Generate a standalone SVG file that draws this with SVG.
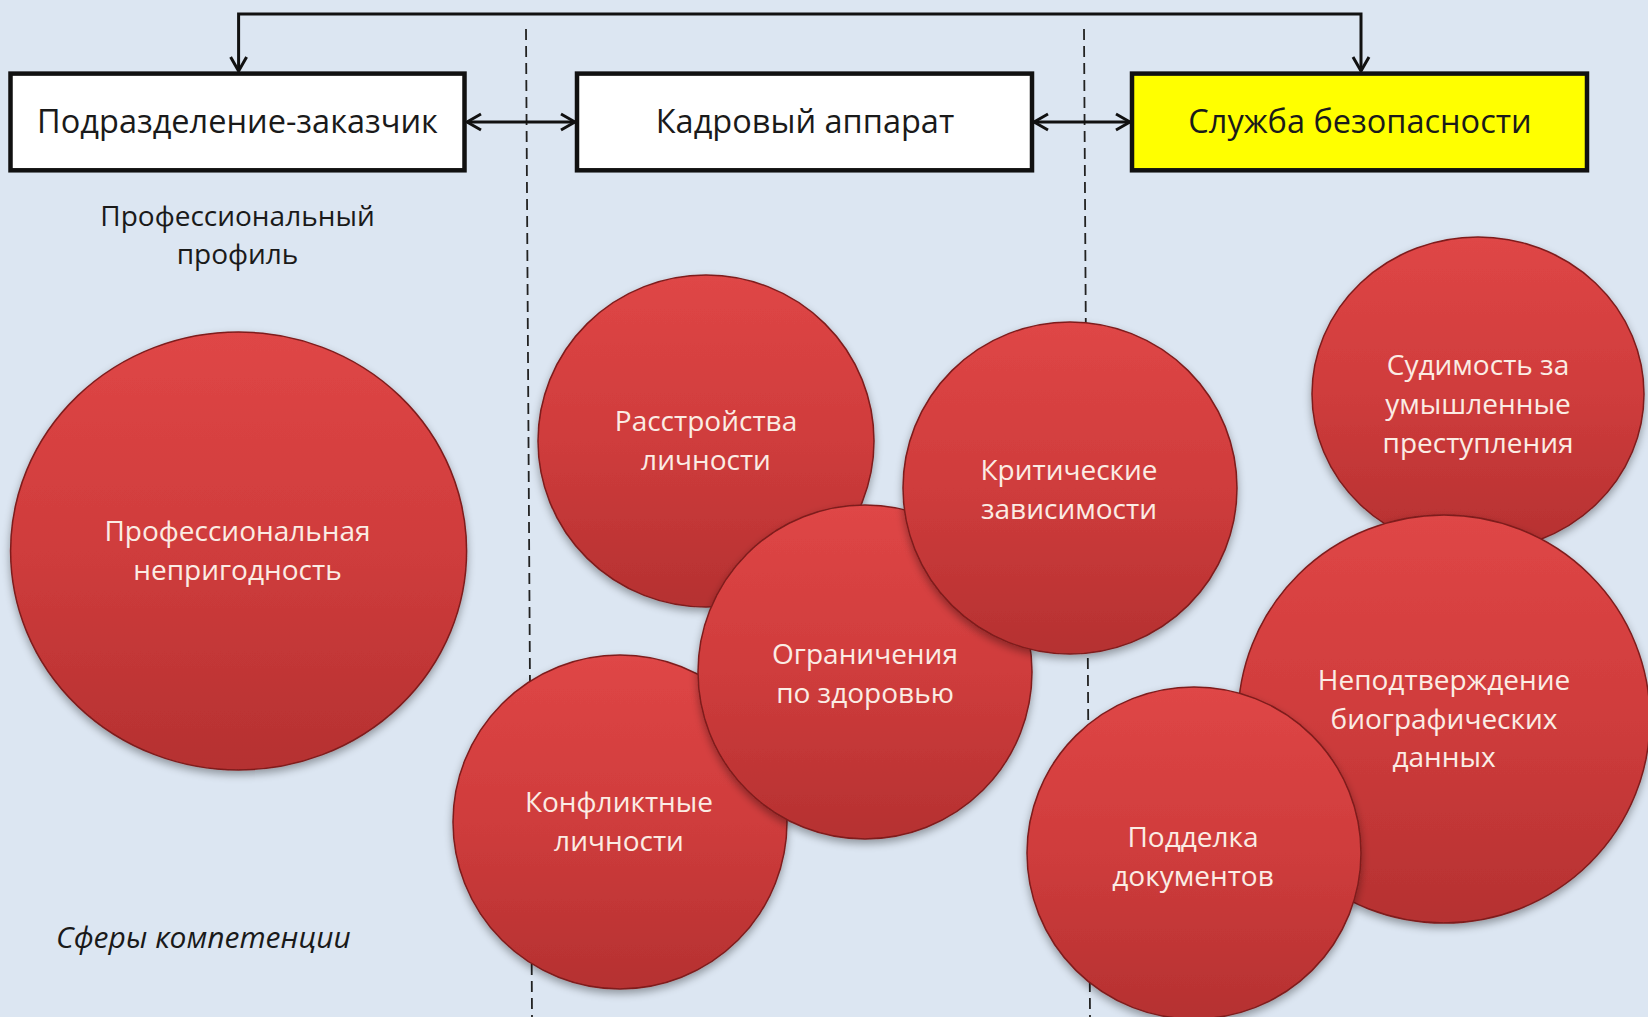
<svg xmlns="http://www.w3.org/2000/svg" width="1648" height="1017" viewBox="0 0 1648 1017">
<defs>
<style>
.box{stroke:#111;stroke-width:4.5;}
.btxt{font-family:"Open Sans","Noto Sans",sans-serif;font-size:32.5px;fill:#1a1a1a;text-anchor:middle;}
.lbl{font-family:"Open Sans","Noto Sans",sans-serif;font-size:28px;fill:#1a1a1a;text-anchor:middle;}
.ctxt{font-family:"Open Sans","Noto Sans",sans-serif;font-size:28px;fill:#fbece4;text-anchor:middle;}
.circ{fill:url(#redg);stroke:#7e1c1c;stroke-width:1.5;filter:url(#sh);}
.conn{fill:none;stroke:#111;stroke-width:3;}
.dash{stroke:#222;stroke-width:1.8;stroke-dasharray:11 6;}
</style>
<linearGradient id="redg" x1="0" y1="0" x2="0" y2="1">
<stop offset="0" stop-color="#df4646"/>
<stop offset="0.5" stop-color="#cf3c3c"/>
<stop offset="1" stop-color="#b53131"/>
</linearGradient>
<filter id="sh" x="-10%" y="-10%" width="120%" height="125%">
<feGaussianBlur in="SourceAlpha" stdDeviation="4"/>
<feOffset dx="0" dy="4" result="b"/>
<feComponentTransfer><feFuncA type="linear" slope="0.35"/></feComponentTransfer>
<feMerge><feMergeNode/><feMergeNode in="SourceGraphic"/></feMerge>
</filter>
<marker id="ah" viewBox="0 0 18 20" refX="16" refY="10" markerWidth="18" markerHeight="20" markerUnits="userSpaceOnUse" orient="auto-start-reverse">
<path d="M2,2 L16,10 L2,18" fill="none" stroke="#111" stroke-width="3"/>
</marker>
</defs>
<rect width="1648" height="1017" fill="#dce6f2"/>

<g id="dividers">
<line class="dash" x1="526" y1="29" x2="532" y2="1017"/>
<line class="dash" x1="1084" y1="29" x2="1090" y2="1017"/>
</g>

<g id="connectors">
<path class="conn" d="M238.6,71 V14 H1361 V71" marker-start="url(#ah)" marker-end="url(#ah)"/>
<line class="conn" x1="467" y1="122" x2="575" y2="122" marker-start="url(#ah)" marker-end="url(#ah)"/>
<line class="conn" x1="1034" y1="122" x2="1130" y2="122" marker-start="url(#ah)" marker-end="url(#ah)"/>
</g>

<g id="box-customer">
<rect class="box" x="10.5" y="73.6" width="454" height="96.7" fill="#ffffff"/>
<text class="btxt" x="237.5" y="133">Подразделение-заказчик</text>
</g>
<g id="box-hr">
<rect class="box" x="577" y="73.6" width="455" height="96.7" fill="#ffffff"/>
<text class="btxt" x="805" y="133">Кадровый аппарат</text>
</g>
<g id="box-security">
<rect class="box" x="1132" y="73.6" width="455" height="96.7" fill="#ffff00"/>
<text class="btxt" x="1360" y="133">Служба безопасности</text>
</g>

<g id="label-profile">
<text class="lbl" x="237.5" y="226">Профессиональный</text>
<text class="lbl" x="237.5" y="264">профиль</text>
</g>

<g id="c-conviction">
<ellipse class="circ" cx="1478" cy="394" rx="166" ry="157"/>
<text class="ctxt" x="1478" y="375">Судимость за</text>
<text class="ctxt" x="1478" y="414">умышленные</text>
<text class="ctxt" x="1478" y="453">преступления</text>
</g>
<g id="c-biography">
<ellipse class="circ" cx="1444" cy="719" rx="206" ry="204"/>
<text class="ctxt" x="1444" y="690">Неподтверждение</text>
<text class="ctxt" x="1444" y="729">биографических</text>
<text class="ctxt" x="1444" y="767">данных</text>
</g>
<g id="c-forgery">
<ellipse class="circ" cx="1194" cy="853" rx="167" ry="166"/>
<text class="ctxt" x="1193" y="847">Подделка</text>
<text class="ctxt" x="1193" y="886">документов</text>
</g>
<g id="c-disorders">
<ellipse class="circ" cx="706" cy="441" rx="168" ry="166"/>
<text class="ctxt" x="706" y="431">Расстройства</text>
<text class="ctxt" x="706" y="470">личности</text>
</g>
<g id="c-conflict">
<ellipse class="circ" cx="620" cy="822" rx="167" ry="167"/>
<text class="ctxt" x="619" y="812">Конфликтные</text>
<text class="ctxt" x="619" y="851">личности</text>
</g>
<g id="c-health">
<ellipse class="circ" cx="865" cy="672" rx="167" ry="167"/>
<text class="ctxt" x="865" y="664">Ограничения</text>
<text class="ctxt" x="865" y="703">по здоровью</text>
</g>
<g id="c-addiction">
<ellipse class="circ" cx="1070" cy="488" rx="167" ry="166"/>
<text class="ctxt" x="1069" y="480">Критические</text>
<text class="ctxt" x="1069" y="519">зависимости</text>
</g>
<g id="c-unfit">
<ellipse class="circ" cx="238.6" cy="551" rx="228" ry="219"/>
<text class="ctxt" x="237.5" y="541">Профессиональная</text>
<text class="ctxt" x="237.5" y="580">непригодность</text>
</g>

<g id="label-spheres">
<text x="56" y="948" font-family="Open Sans, Noto Sans, sans-serif" font-size="30" font-style="italic" fill="#1a1a1a">Сферы компетенции</text>
</g>
</svg>
